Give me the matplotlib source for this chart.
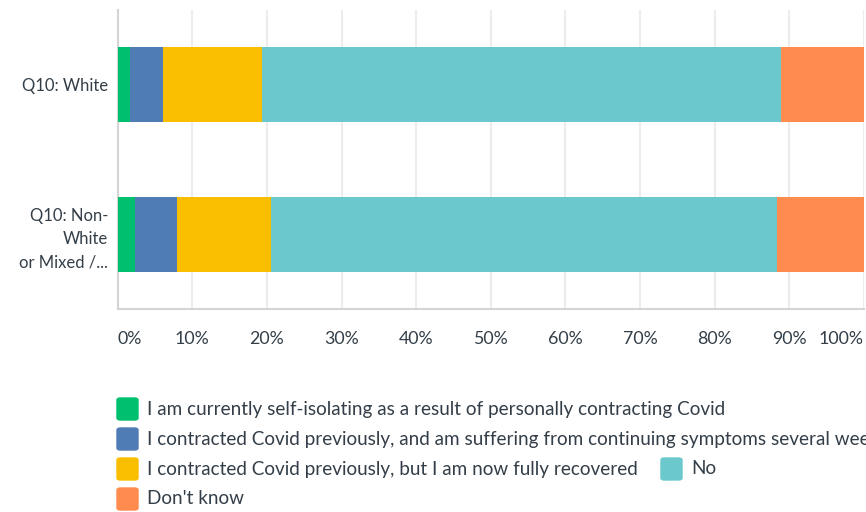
import numpy as np
import matplotlib.pyplot as plt
from matplotlib.patches import FancyBboxPatch

categories = ["Q10: White", "Q10: Non-\nWhite\nor Mixed /..."]
answers = [
    "I am currently self-isolating as a result of personally contracting Covid",
    "I contracted Covid previously, and am suffering from continuing symptoms several weeks later",
    "I contracted Covid previously, but I am now fully recovered",
    "No",
    "Don't know",
]
colors = ["#00bf6f", "#507cb6", "#f9be00", "#6bc8cd", "#ff8b4f"]
# percentages per answer, [White, Non-White]
values = [
    [1.6, 2.3],
    [4.5, 5.7],
    [13.2, 12.5],
    [69.6, 67.9],
    [11.1, 11.6],
]
ticks = [0, 10, 20, 30, 40, 50, 60, 70, 80, 90, 100]
tick_labels = ["0%", "10%", "20%", "30%", "40%", "50%", "60%", "70%", "80%", "90%", "100%"]

txt = "#333e48"
plt.rcParams['font.family'] = ['Lato', 'DejaVu Sans']

fig = plt.figure(figsize=(8.66, 5.12), dpi=100)
W, H = 866, 512
ax = fig.add_axes([117.7 / W, 1 - 309 / H, (863.7 - 117.7) / W, (309 - 10) / H])

y = np.arange(len(categories))
left = np.zeros(len(categories))
for vals, c in zip(values, colors):
    ax.barh(y, vals, left=left, height=0.5, color=c, zorder=3)
    left += np.array(vals)

ax.set_xlim(0, 100)
ax.set_ylim(1.5, -0.5)
ax.set_yticks(y)
ax.set_yticklabels(categories, fontsize=12, color=txt, linespacing=1.55)
ax.set_xticks(ticks)
labs = ax.set_xticklabels(tick_labels, fontsize=12.8, color=txt)
labs[0].set_ha("left")
labs[-1].set_ha("right")
ax.tick_params(axis="x", length=0, pad=16)
ax.tick_params(axis="y", length=0, pad=7)
ax.grid(axis="x", color="#ececec", linewidth=1.5, zorder=0)
for s in ["top", "right"]:
    ax.spines[s].set_visible(False)
for s in ["left", "bottom"]:
    ax.spines[s].set_color("#d4d4d4")
    ax.spines[s].set_linewidth(1.5)

# legend drawn by hand to match the layout
rows = [(116, 409, 0), (116, 439, 1), (116, 469, 2), (660, 469, 3), (116, 499, 4)]
for x0, yc, i in rows:
    fig.patches.append(FancyBboxPatch(((x0 + 1) / W, 1 - (yc + 11) / H), 21 / W, 22 / H,
                                      boxstyle="round,pad=0,rounding_size=0.004",
                                      transform=fig.transFigure, color=colors[i]))
    fig.text((x0 + 31) / W, 1 - yc / H, answers[i], fontsize=13.6, color=txt,
             va="center", ha="left")

fig.savefig("out.png", dpi=100)
